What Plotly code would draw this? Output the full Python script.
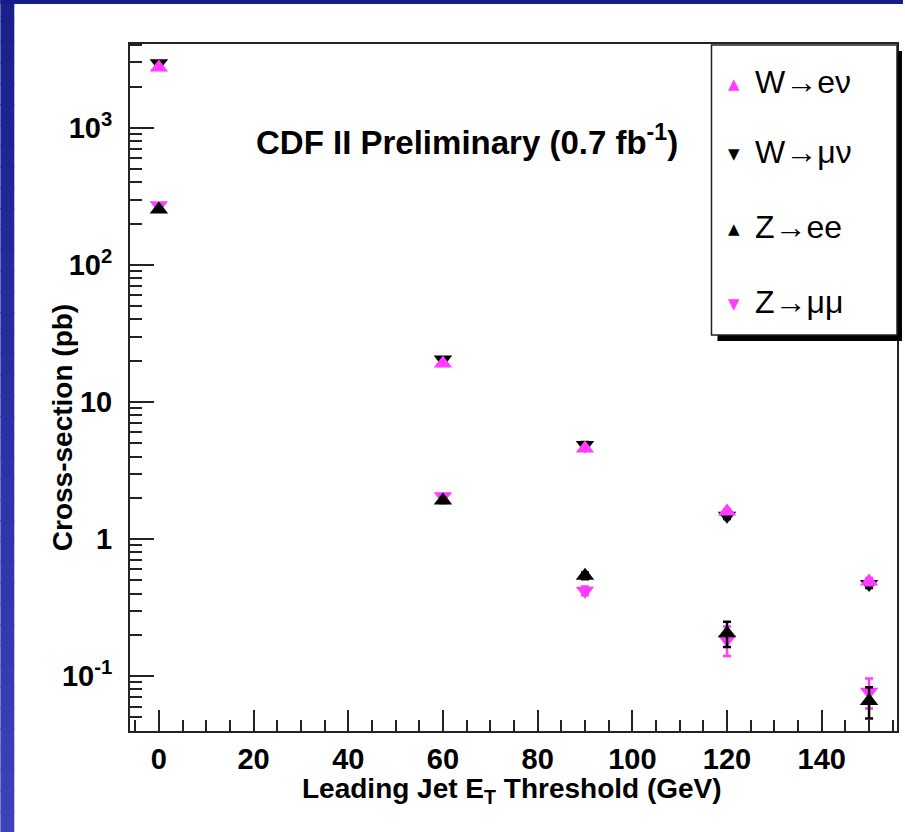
import plotly.graph_objects as go
import math

# ---------------- data ----------------
thresholds = [0, 60, 90, 120, 150]

w_enu = [2760, 19.1, 4.57, 1.59, 0.49]
w_enu_err = [60, 0.5, 0.15, 0.06, 0.03]

w_munu = [2960, 20.4, 4.85, 1.48, 0.47]
w_munu_err = [70, 0.5, 0.25, 0.08, 0.03]

z_ee = [254, 1.91, 0.54, 0.206, 0.066]
z_ee_err = [8, 0.08, 0.03, 0.043, 0.017]

z_mumu = [273, 2.05, 0.42, 0.185, 0.077]
z_mumu_err = [8, 0.08, 0.03, 0.045, 0.019]

legend_labels = ["W\u2192e\u03bd", "W\u2192\u03bc\u03bd", "Z\u2192ee", "Z\u2192\u03bc\u03bc"]
y_tickvals = [0.1, 1, 10, 100, 1000]
y_ticktext = ["10<sup>-1</sup>", "1", "10", "10<sup>2</sup>", "10<sup>3</sup>"]
x_tickvals = [0, 20, 40, 60, 80, 100, 120, 140]

MAGENTA = "#ff3cff"
BLACK = "#000000"
FONT = "Liberation Sans, Arial, Helvetica, sans-serif"

W, H = 905, 832
L, R, T, B = 130, 6, 44, 101
PW, PH = W - L - R, H - T - B


def px_x(p):
    return (p - L) / PW


def px_y(p):
    return (H - B - p) / PH


fig = go.Figure()

series = [
    (w_munu, w_munu_err, "triangle-down", BLACK, legend_labels[1]),
    (w_enu, w_enu_err, "triangle-up", MAGENTA, legend_labels[0]),
    (z_mumu, z_mumu_err, "triangle-down", MAGENTA, legend_labels[3]),
    (z_ee, z_ee_err, "triangle-up", BLACK, legend_labels[2]),
]
for vals, errs, sym, col, name in series:
    fig.add_trace(go.Scatter(
        x=thresholds, y=vals, mode="markers", name=name, showlegend=False,
        marker=dict(symbol=sym, size=16, color=col, line=dict(width=0)),
        error_y=dict(type="data", array=errs, color=col, thickness=2.5, width=4),
    ))

# minor ticks on log axis
y_minor = []
for k in range(-2, 4):
    for m in range(2, 10):
        v = m * 10 ** k
        if 0.0398 <= v <= 4085:
            y_minor.append(v)

fig.update_xaxes(
    range=[-6.1, 155.9], showgrid=False, zeroline=False,
    showline=True, linecolor="#222", linewidth=2, mirror=True,
    ticks="inside", ticklen=21, tickwidth=1.5, tickcolor="#222",
    tickvals=x_tickvals, ticktext=[str(v) for v in x_tickvals],
    tickfont=dict(family=FONT, size=29, color="black", weight="bold"),
    ticklabelstandoff=1,
    minor=dict(dtick=5, tick0=0, ticks="inside", ticklen=11, tickwidth=1.5,
               tickcolor="#222", showgrid=False),
)
fig.update_yaxes(
    type="log", range=[math.log10(0.0398), math.log10(4090)],
    showgrid=False, zeroline=False,
    showline=True, linecolor="#222", linewidth=2, mirror=True,
    ticks="inside", ticklen=24, tickwidth=1.5, tickcolor="#222",
    tickvals=y_tickvals, ticktext=y_ticktext,
    tickfont=dict(family=FONT, size=29, color="black", weight="bold"),
    ticklabelstandoff=10,
    minor=dict(tickvals=y_minor, ticks="inside", ticklen=12, tickwidth=1.5,
               tickcolor="#222", showgrid=False),
)

shapes = []
# blue presentation frame (top band and left gradient band)
n = 40
c0 = (26, 31, 140)
c1 = (60, 66, 184)
for i in range(n):
    t = i / (n - 1)
    col = "rgb(%d,%d,%d)" % tuple(round(a + (b - a) * t) for a, b in zip(c0, c1))
    y0 = H * i / n
    y1 = H * (i + 1) / n + 1
    shapes.append(dict(type="rect", xref="paper", yref="paper",
                       x0=px_x(0), x1=px_x(14), y0=px_y(y1), y1=px_y(y0),
                       fillcolor=col, line=dict(width=0), layer="above"))
shapes.append(dict(type="rect", xref="paper", yref="paper",
                   x0=px_x(0), x1=px_x(W), y0=px_y(4), y1=px_y(0),
                   fillcolor="rgb(24,28,138)", line=dict(width=0), layer="above"))

# legend box with shadow
shapes.append(dict(type="rect", xref="paper", yref="paper",
                   x0=px_x(719), x1=px_x(904), y0=px_y(341), y1=px_y(51),
                   fillcolor="black", line=dict(width=0), layer="above"))
shapes.append(dict(type="rect", xref="paper", yref="paper",
                   x0=px_x(713), x1=px_x(899), y0=px_y(335), y1=px_y(45),
                   fillcolor="white", line=dict(color="#222", width=1.5), layer="above"))

annotations = []
leg_y = [82, 152, 227, 302]
leg_sym = [("\u25b2", MAGENTA), ("\u25bc", BLACK), ("\u25b2", BLACK), ("\u25bc", MAGENTA)]
leg_txt = [legend_labels[0], legend_labels[1], legend_labels[2], legend_labels[3]]
for yy, (s, c), txt in zip(leg_y, leg_sym, leg_txt):
    annotations.append(dict(x=px_x(736), y=px_y(yy + 2), xref="paper", yref="paper",
                            text=s, showarrow=False, xanchor="center", yanchor="middle",
                            font=dict(family="DejaVu Sans", size=15, color=c)))
    annotations.append(dict(x=px_x(755), y=px_y(yy), xref="paper", yref="paper",
                            text=txt, showarrow=False, xanchor="left", yanchor="middle",
                            font=dict(family=FONT, size=32, color="black")))

annotations.append(dict(x=px_x(468), y=px_y(140), xref="paper", yref="paper",
                        text="CDF II Preliminary (0.7 fb<sup>-1</sup>)", showarrow=False,
                        xanchor="center", yanchor="middle",
                        font=dict(family=FONT, size=33, color="black", weight="bold")))
annotations.append(dict(x=px_x(513), y=px_y(790), xref="paper", yref="paper",
                        text="Leading Jet E<sub>T</sub> Threshold (GeV)", showarrow=False,
                        xanchor="center", yanchor="middle",
                        font=dict(family=FONT, size=28, color="black", weight="bold")))
annotations.append(dict(x=px_x(62), y=px_y(428), xref="paper", yref="paper",
                        text="Cross-section (pb)", showarrow=False, textangle=-90,
                        xanchor="center", yanchor="middle",
                        font=dict(family=FONT, size=28, color="black", weight="bold")))

fig.update_layout(
    width=W, height=H, autosize=False,
    margin=dict(l=L, r=R, t=T, b=B, pad=0),
    paper_bgcolor="white", plot_bgcolor="white",
    showlegend=False, shapes=shapes, annotations=annotations,
)

fig.write_html("out.html")
